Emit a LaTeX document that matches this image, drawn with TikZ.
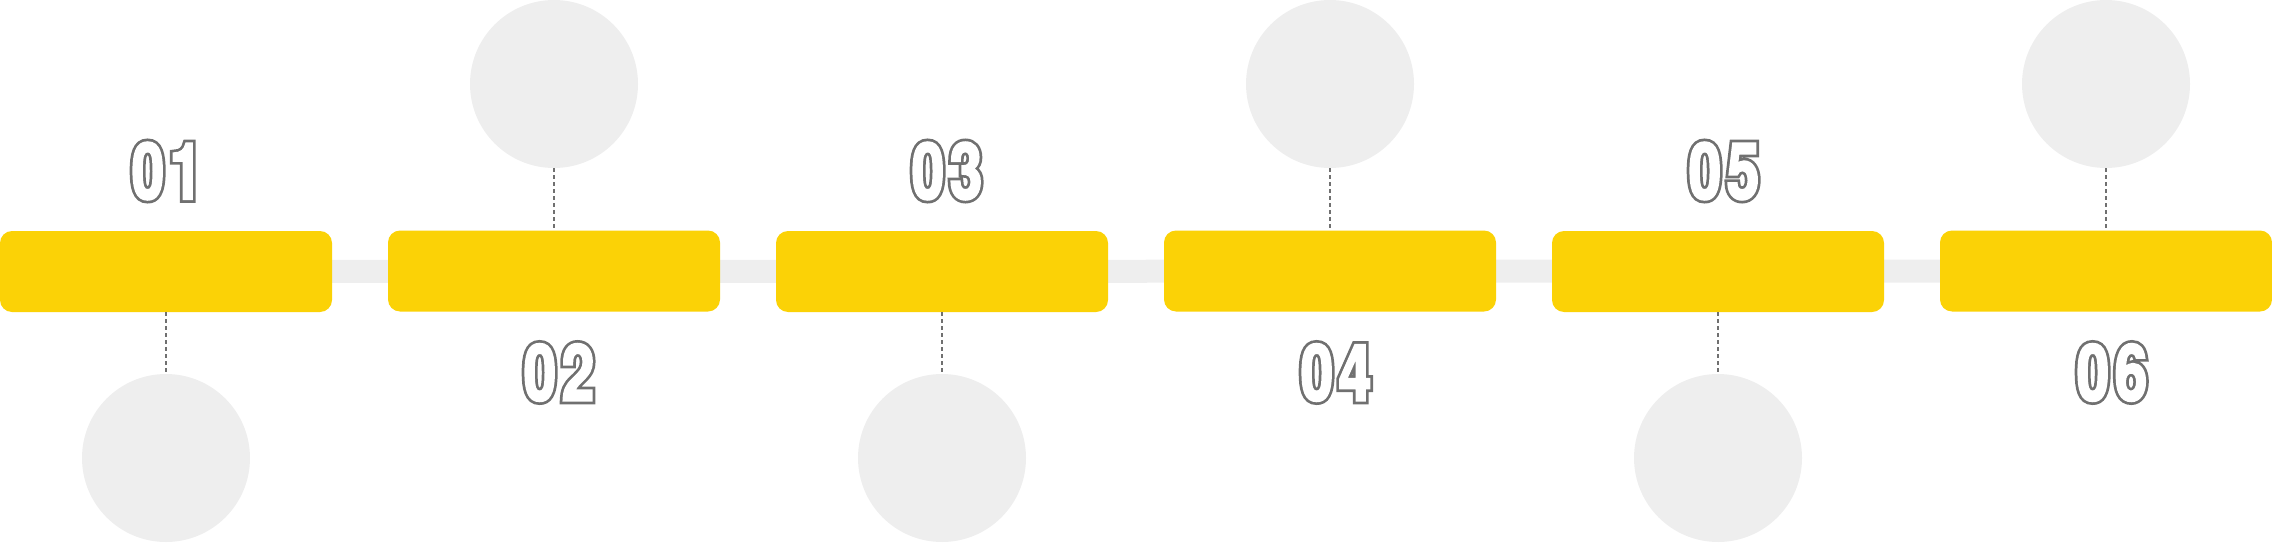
\documentclass[tikz,border=0pt]{standalone}
\usepackage{fontspec}
\usetikzlibrary{backgrounds}
\newfontfamily\numbg{TeX Gyre Heros Bold}[FakeStretch=0.74,FakeBold=10]
\newfontfamily\numfg{TeX Gyre Heros Bold}[FakeStretch=0.74,FakeBold=3]
\newcommand{\rj}{\special{pdf:code 0 j 2 M}}
\newcommand{\dg}[2]{\rj#1\kern6pt#2}
\definecolor{ybox}{RGB}{251,210,6}
\definecolor{gfill}{RGB}{238,238,238}
\definecolor{dline}{RGB}{112,112,112}
\definecolor{numline}{RGB}{112,112,112}
\tikzset{
  ybx/.style={rectangle, rounded corners=12pt, minimum width=332pt, minimum height=81pt, inner sep=0pt, fill=ybox, draw=none},
  gcirc/.style={circle, minimum size=168pt, inner sep=0pt, fill=gfill, draw=none},
  dashline/.style={draw=dline, line width=2pt, dash pattern=on 4pt off 3pt},
  numback/.style={inner sep=0pt, text=numline, font=\numbg\fontsize{78}{78}\selectfont},
  numfront/.style={inner sep=0pt, text=white, font=\numfg\fontsize{78}{78}\selectfont},
  barline/.style={draw=gfill, line width=23pt}
}
\begin{document}
\begin{tikzpicture}[x=1pt,y=-1pt]
\useasboundingbox (0,0) rectangle (2272,543);
% boxes
\node[ybx] (b1) at (166,271.5) {};
\node[ybx] (b2) at (554,271) {};
\node[ybx] (b3) at (942,271.5) {};
\node[ybx] (b4) at (1330,271) {};
\node[ybx] (b5) at (1718,271.5) {};
\node[ybx] (b6) at (2106,271) {};
% circles
\node[gcirc] (c1) at (166,458) {};
\node[gcirc] (c2) at (554,84) {};
\node[gcirc] (c3) at (942,458) {};
\node[gcirc] (c4) at (1330,84) {};
\node[gcirc] (c5) at (1718,458) {};
\node[gcirc] (c6) at (2106,84) {};
% bar behind boxes
\begin{pgfonlayer}{background}
\draw[barline] (b1.center) -- (b6.center);
\end{pgfonlayer}
% dashed connectors
\draw[dashline] (b1.south) -- (c1.north);
\draw[dashline] (c2.south) -- (b2.north);
\draw[dashline] (b3.south) -- (c3.north);
\draw[dashline] (c4.south) -- (b4.north);
\draw[dashline] (b5.south) -- (c5.north);
\draw[dashline] (c6.south) -- (b6.north);
% numbers
\node[numback] (n1b) at (167,171) {\dg01};
\node[numfront] (n1) at (n1b) {\dg01};
\node[numback] (n2b) at (559,372.5) {\dg02};
\node[numfront] (n2) at (n2b) {\dg02};
\node[numback] (n3b) at (947,171) {\dg03};
\node[numfront] (n3) at (n3b) {\dg03};
\node[numback] (n4b) at (1336,372.5) {\dg04};
\node[numfront] (n4) at (n4b) {\dg04};
\node[numback] (n5b) at (1724,171) {\dg05};
\node[numfront] (n5) at (n5b) {\dg05};
\node[numback] (n6b) at (2112,372.5) {\dg06};
\node[numfront] (n6) at (n6b) {\dg06};
\end{tikzpicture}
\end{document}
